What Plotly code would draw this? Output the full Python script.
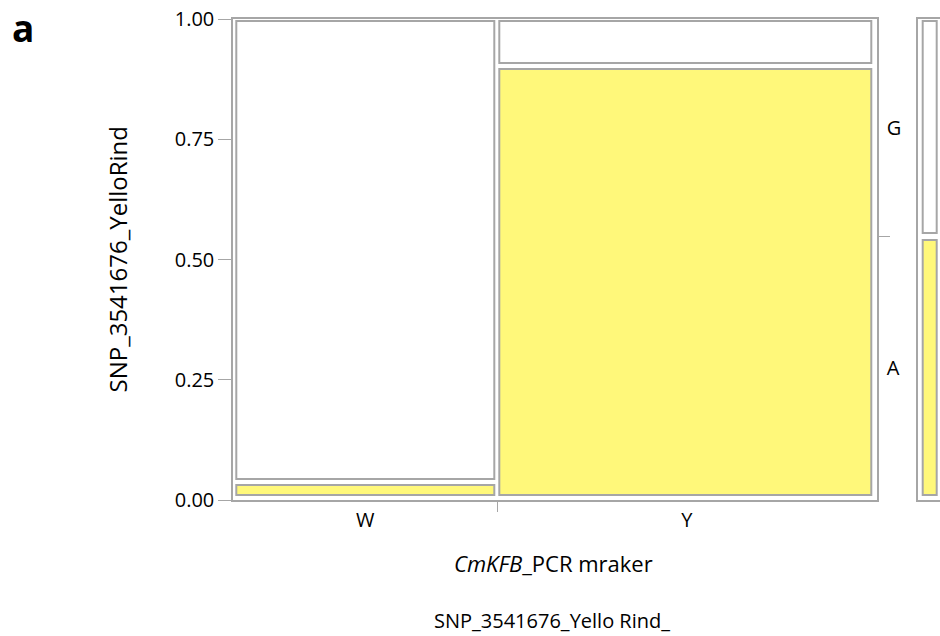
import plotly.graph_objects as go

# ---- data -------------------------------------------------------------
marker_groups = ["W", "Y"]            # CmKFB PCR marker genotype
group_share = [0.41, 0.59]            # column widths (share of plants)
snp_alleles = ["A", "G"]              # SNP_3541676 alleles, bottom to top
allele_a_share = [0.038, 0.902]       # share of allele A within each column
y_tick_vals = [0.0, 0.25, 0.5, 0.75, 1.0]

# ---- style ------------------------------------------------------------
FONT = "Open Sans"
GRAY = "#A6A6A6"
YELLOW = "#FFF87A"
WHITE = "#FFFFFF"
W_PX, H_PX = 940, 636

# main mosaic frame in pixels
X0_PX, X1_PX = 233.3, 876.7
Y_TOP_PX, Y_BOT_PX = 19.0, 500.0
# marginal bar frame
MX0_PX = 917.7
MX1_PX = 942.0

# cell insets (pixels) inside the frame / partitions
IN_LEFT, IN_RIGHT, IN_TOP, IN_BOT, IN_SPLIT = 2.6, 3.0, 1.8, 5.4, 3.2
IN_LAST_RIGHT = 5.3

px_x = 1.0 / (X1_PX - X0_PX)
px_y = 1.0 / (Y_BOT_PX - Y_TOP_PX)

y_dom = [1 - Y_BOT_PX / H_PX, 1 - Y_TOP_PX / H_PX]
x_dom = [X0_PX / W_PX, X1_PX / W_PX]
mx_dom = [MX0_PX / W_PX, 1.0]

fig = go.Figure()

# column boundaries
edges = [0.0]
for s in group_share:
    edges.append(edges[-1] + s)
centers = [(edges[i] + edges[i + 1]) / 2 for i in range(len(marker_groups))]


def add_cell(x0, x1, y0, y1, color, xa="x", ya="y"):
    fig.add_trace(go.Bar(
        x=[(x0 + x1) / 2], y=[y1 - y0], base=[y0], width=[x1 - x0],
        marker=dict(color=color, line=dict(color=GRAY, width=2)),
        xaxis=xa, yaxis=ya, showlegend=False, hoverinfo="skip",
    ))


for i, g in enumerate(marker_groups):
    left = edges[i] + (IN_LEFT if i == 0 else IN_SPLIT - 0.6) * px_x
    right_in = IN_LAST_RIGHT if i == len(marker_groups) - 1 else IN_SPLIT
    right = edges[i + 1] - right_in * px_x
    split = allele_a_share[i]
    # allele A (yellow) at the bottom
    add_cell(left, right, 0 + IN_BOT * px_y, split - IN_SPLIT * px_y, YELLOW)
    # allele G (white) on top
    add_cell(left, right, split + IN_SPLIT * px_y, 1 - IN_TOP * px_y, WHITE)

# overall allele share (marginal bar)
overall_a = sum(s * a for s, a in zip(group_share, allele_a_share))
mpx = 1.0 / (MX1_PX - MX0_PX)
m_left = 5.3 * mpx
m_right = (936.3 - MX0_PX) * mpx
add_cell(m_left, m_right, IN_BOT * px_y, overall_a - 3.5 * px_y, YELLOW, "x3", "y3")
add_cell(m_left, m_right, overall_a + 3.5 * px_y, 1 - IN_TOP * px_y, WHITE, "x3", "y3")

# invisible point to carry the right-hand allele axis
fig.add_trace(go.Scatter(x=[0.5], y=[0.5], xaxis="x", yaxis="y2", mode="markers",
                         marker=dict(opacity=0), showlegend=False, hoverinfo="skip"))

tick_font = dict(family=FONT, size=20, color="#000000")

fig.update_layout(
    width=W_PX, height=H_PX,
    margin=dict(l=0, r=0, t=0, b=0, autoexpand=False),
    paper_bgcolor="white", plot_bgcolor="white",
    barmode="overlay", bargap=0,
    font=dict(family=FONT, size=20, color="#000000"),
    xaxis=dict(
        domain=x_dom, range=[0, 1], anchor="y", automargin=False,
        tickmode="array", tickvals=centers, ticktext=marker_groups,
        ticks="outside", ticklen=0.5, tickcolor="rgba(0,0,0,0)",
        minor=dict(tickmode="array", tickvals=edges[1:-1], ticks="outside",
                   ticklen=10, tickwidth=1, tickcolor=GRAY, showgrid=False),
        showline=True, mirror=True, linecolor=GRAY, linewidth=2,
        showgrid=False, zeroline=False, tickfont=tick_font,
    ),
    yaxis=dict(
        domain=y_dom, range=[0, 1], anchor="x", automargin=False,
        tickmode="array", tickvals=y_tick_vals, tickformat=".2f",
        ticks="outside", ticklen=13, tickwidth=1, tickcolor=GRAY,
        showline=True, mirror=True, linecolor=GRAY, linewidth=2,
        showgrid=False, zeroline=False, tickfont=tick_font,
    ),
    yaxis2=dict(
        domain=y_dom, range=[0, 1], overlaying="y", side="right", anchor="x",
        automargin=False, tickmode="array",
        tickvals=[overall_a / 2, (1 + overall_a) / 2], ticktext=snp_alleles,
        ticks="outside", ticklen=5, tickcolor="rgba(0,0,0,0)",
        minor=dict(tickmode="array", tickvals=[overall_a], ticks="outside",
                   ticklen=12, tickwidth=1, tickcolor=GRAY, showgrid=False),
        showline=False, showgrid=False, zeroline=False, tickfont=tick_font,
    ),
    xaxis3=dict(
        domain=mx_dom, range=[0, (W_PX - MX0_PX) * mpx], anchor="y3",
        automargin=False,
        showticklabels=False, ticks="", showline=True, mirror=True,
        linecolor=GRAY, linewidth=2, showgrid=False, zeroline=False,
    ),
    yaxis3=dict(
        domain=y_dom, range=[0, 1], anchor="x3", automargin=False,
        showticklabels=False, ticks="", showline=True, mirror=False,
        linecolor=GRAY, linewidth=2, showgrid=False, zeroline=False,
    ),
)

annotations = [
    dict(text="<b>a</b>", x=23 / W_PX, y=1.0, yanchor="top", font=dict(size=37)),
    dict(text="SNP_3541676_YelloRind", x=117 / W_PX, y=1 - 259.5 / H_PX,
         yanchor="middle", textangle=-90, font=dict(size=24)),
    dict(text="<i>CmKFB</i>_PCR mraker", x=553 / W_PX, y=1 - 563 / H_PX,
         yanchor="middle", font=dict(size=22)),
    dict(text="SNP_3541676_Yello Rind_", x=552 / W_PX, y=0.0,
         yanchor="bottom", font=dict(size=20)),
]
for a in annotations:
    a.update(xref="paper", yref="paper", showarrow=False, xanchor="center")
    a["font"] = dict(family=FONT, color="#000000", **a["font"])
fig.update_layout(annotations=annotations)

fig.write_html("out.html")
